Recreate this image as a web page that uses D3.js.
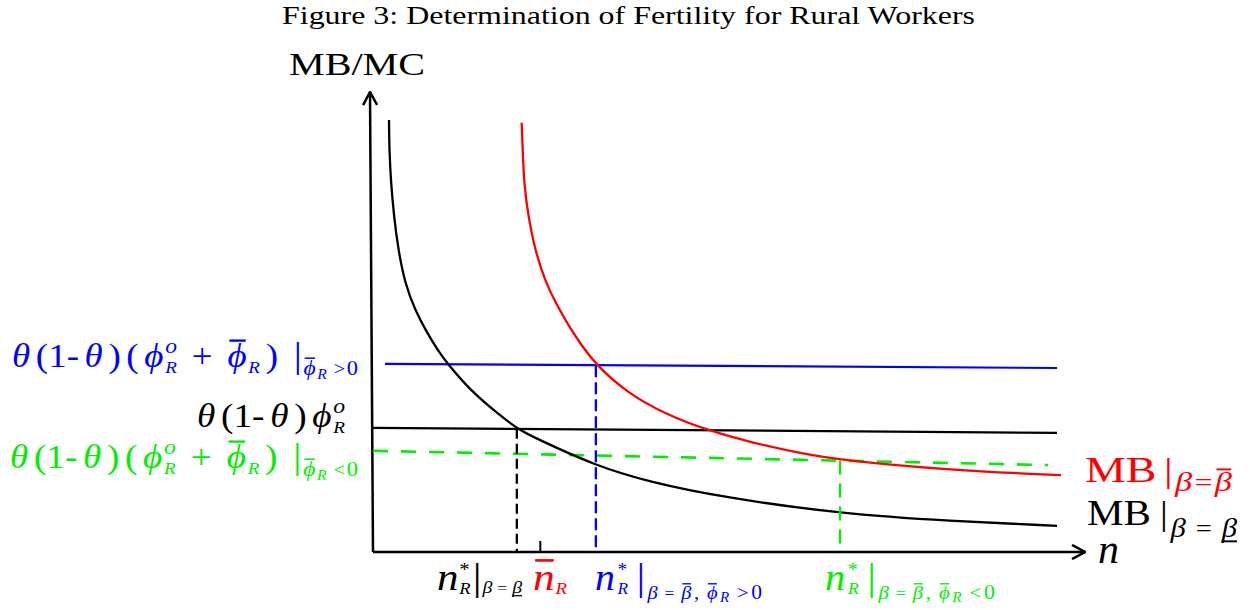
<!DOCTYPE html>
<html>
<head>
<meta charset="utf-8">
<script src="https://cdn.jsdelivr.net/npm/d3@7"></script>
<style>
  body { margin: 0; background: #fff; }
  svg { font-family: "Liberation Serif", "DejaVu Serif", serif; }
  text { white-space: pre; }
</style>
</head>
<body>
<svg id="svg1"></svg>
<script>
const width = 1256;
const height = 610;

// curves (n, MB)
const nBlack = [2.25, 2.29, 2.53, 2.95, 3.55, 4.49, 5.90, 7.54, 9.17, 10.39, 13.62, 17.42, 20.37, 22.75, 31.32, 38.90, 48.74, 65.59, 81.04, 96.07];
const mbBlack = [93.9, 87.4, 80.2, 72.9, 65.7, 58.4, 52.6, 47.8, 43.7, 41.1, 35.2, 30.2, 26.7, 24.8, 18.7, 15.2, 12.0, 8.3, 6.7, 5.7];
const nRed = [20.88, 21.03, 21.21, 21.81, 22.75, 24.16, 25.80, 27.67, 29.07, 31.32, 35.67, 41.29, 46.91, 53.37, 59.97, 65.59, 81.04, 96.63];
const mbRed = [93.3, 87.4, 80.2, 72.9, 65.7, 58.9, 53.7, 48.7, 45.4, 40.7, 34.6, 29.8, 26.5, 23.7, 21.5, 20.0, 17.8, 16.7];

// MC lines (start/end)
const mcBlueN = [1.69, 96.07], mcBlueV = [40.9, 40.0];
const mcBlackN = [0, 96.07], mcBlackV = [27.0, 25.9];
const mcGreenN = [0, 94.8], mcGreenV = [22.0, 18.9];

// equilibria
const nStar = [20.2, 31.3, 65.6];
const eqMB = [26.8, 40.6, 19.9];
const eqColor = ["#000", "#0000ff", "#00ee00"];
const eqDash = ["10,5", "12,5", "14,9"];
const nBar = 23.5;

const x = d3.scaleLinear([0, 100], [373, 1085]);
const y = d3.scaleLinear([0, 100], [552, 92]);

const svg = d3.select("#svg1")
    .attr("width", width)
    .attr("height", height)
    .attr("viewBox", [0, 0, width, height]);

svg.append("defs").append("marker")
    .attr("id", "arrow")
    .attr("markerUnits", "userSpaceOnUse")
    .attr("viewBox", "0 0 16 16")
    .attr("markerWidth", 16).attr("markerHeight", 16)
    .attr("refX", 15).attr("refY", 8)
    .attr("orient", "auto")
    .append("path")
    .attr("d", "M2,1L15,8L2,15")
    .attr("fill", "none").attr("stroke", "#000").attr("stroke-width", 2.5);

// title
svg.append("text")
    .attr("x", 282).attr("y", 24)
    .attr("textLength", 693).attr("lengthAdjust", "spacingAndGlyphs")
    .style("font-size", "25px")
    .text("Figure 3: Determination of Fertility for Rural Workers");

svg.append("text")
    .attr("x", 289).attr("y", 75)
    .attr("textLength", 136).attr("lengthAdjust", "spacingAndGlyphs")
    .style("font-size", "31px")
    .text("MB/MC");

// axes
svg.append("line")
    .attr("x1", x(0)).attr("y1", y(0))
    .attr("x2", x(0) - 3).attr("y2", y(100))
    .attr("stroke", "#000").attr("stroke-width", 2.5)
    .attr("marker-end", "url(#arrow)");
svg.append("line")
    .attr("x1", x(0)).attr("y1", y(0))
    .attr("x2", x(100)).attr("y2", y(0))
    .attr("stroke", "#000").attr("stroke-width", 2.5)
    .attr("marker-end", "url(#arrow)");

svg.append("line")
    .attr("x1", x(nBar)).attr("x2", x(nBar))
    .attr("y1", y(0)).attr("y2", y(0) - 11)
    .attr("stroke", "#000").attr("stroke-width", 2);

// MC lines
const mcLine = (ns, vs, color, dash, w) => svg.append("line")
    .attr("x1", x(ns[0])).attr("y1", y(vs[0]))
    .attr("x2", x(ns[1])).attr("y2", y(vs[1]))
    .attr("stroke", color).attr("stroke-width", w)
    .attr("stroke-dasharray", dash);
mcLine(mcBlueN, mcBlueV, "#0000ff", null, 2.2);
mcLine(mcBlackN, mcBlackV, "#000", null, 2.2);
mcLine(mcGreenN, mcGreenV, "#00ee00", "15,13", 2.6);

// MB curves
const line = d3.line()
    .x(d => x(d[0]))
    .y(d => y(d[1]))
    .curve(d3.curveBasis);
svg.append("path")
    .attr("d", line(d3.zip(nBlack, mbBlack)))
    .attr("fill", "none").attr("stroke", "#000").attr("stroke-width", 2.3);
svg.append("path")
    .attr("d", line(d3.zip(nRed, mbRed)))
    .attr("fill", "none").attr("stroke", "#ff0000").attr("stroke-width", 2.3);

// drop lines
svg.selectAll(".drop")
    .data(nStar)
    .join("line")
    .attr("class", "drop")
    .attr("x1", d => x(d)).attr("x2", d => x(d))
    .attr("y1", (d, i) => y(eqMB[i])).attr("y2", y(0))
    .attr("stroke", (d, i) => eqColor[i])
    .attr("stroke-width", 2.3)
    .attr("stroke-dasharray", (d, i) => eqDash[i]);

// math-ish labels built from pieces; a little spare width goes into gaps, the rest is a stretch
function mathLabel(x0, x1, base, color, parts, maxGap = 4) {
    const g = svg.append("g").attr("fill", color);
    const items = parts.map(p => {
        const s = p.size || 33;
        const t = g.append("text")
            .attr("y", p.dy || 0)
            .style("font-size", s + "px")
            .style("font-style", p.it ? "italic" : "normal")
            .text(p.t);
        return {p, s, t, w: t.node().getComputedTextLength()};
    });
    let natural = 0, weights = 0;
    items.forEach((d, i) => {
        if (!d.p.keep) natural += d.w;
        if (i > 0 && !items[i - 1].p.keep) weights += d.p.dy ? 0.3 : 1;
    });
    const gap = Math.min(maxGap, Math.max(0, (x1 - x0 - natural) / weights));
    let cx = 0;
    const deco = [];
    items.forEach((d, i) => {
        if (i > 0 && !items[i - 1].p.keep) cx += gap * (d.p.dy ? 0.3 : 1);
        d.t.attr("x", cx);
        const dy = d.p.dy || 0;
        if (d.p.over) deco.push([cx + d.w * 0.1, cx + d.w * 0.95, dy - d.s * 0.8, d.s]);
        if (d.p.under) deco.push([cx, cx + d.w, dy + d.s * 0.16, d.s]);
        if (!d.p.keep) cx += d.w;
    });
    g.selectAll("line")
        .data(deco)
        .join("line")
        .attr("x1", d => d[0]).attr("x2", d => d[1])
        .attr("y1", d => d[2]).attr("y2", d => d[2])
        .attr("stroke", color)
        .attr("stroke-width", d => Math.max(1.2, d[3] / 14));
    g.attr("transform", `translate(${x0},${base}) scale(${(x1 - x0) / cx},1)`);
}

const mcParts = (sign) => [
    {t: "θ", it: 1}, {t: "(1-"}, {t: "θ", it: 1}, {t: ")"}, {t: "("},
    {t: "ϕ", it: 1}, {t: "o", it: 1, size: 21, dy: -14, keep: 1}, {t: "R", it: 1, size: 17, dy: 6},
    {t: " + "}, {t: "ϕ", it: 1, over: 1}, {t: "R", it: 1, size: 17, dy: 6}, {t: ")"},
    {t: " |", size: 36}, {t: "ϕ", it: 1, size: 21, dy: 8, over: 1}, {t: "R", it: 1, size: 14, dy: 12},
    {t: " " + sign, size: 18, dy: 8}, {t: "0", size: 20, dy: 8}
];
mathLabel(12, 358, 367, "#0000ff", mcParts(">"), 5);
mathLabel(10, 358, 468, "#00ee00", mcParts("<"), 5);
mathLabel(197, 345, 427, "#000", [
    {t: "θ", it: 1}, {t: "(1-"}, {t: "θ", it: 1}, {t: ")"},
    {t: "ϕ", it: 1}, {t: "o", it: 1, size: 21, dy: -14, keep: 1}, {t: "R", it: 1, size: 17, dy: 6}
], 5);

// labels under the n axis
const nStarParts = () => [
    {t: "n", it: 1, size: 37}, {t: "*", size: 18, dy: -14, keep: 1}, {t: "R", it: 1, size: 16, dy: 4},
    {t: "|", size: 38}
];
mathLabel(437, 522, 590, "#000", nStarParts().concat([
    {t: "β", it: 1, size: 17, dy: 3}, {t: " = ", size: 15, dy: 3}, {t: "β", it: 1, size: 17, dy: 3, under: 1}
]), 2);
mathLabel(533, 567, 590, "#ff0000", [
    {t: "n", it: 1, size: 37, over: 1}, {t: "R", it: 1, size: 16, dy: 4}
], 2);
const subTail = (sign) => [
    {t: "β", it: 1, size: 19, dy: 9}, {t: " = ", size: 16, dy: 9},
    {t: "β", it: 1, size: 19, dy: 9, over: 1}, {t: ", ", size: 19, dy: 9},
    {t: "ϕ", it: 1, size: 19, dy: 9, over: 1}, {t: "R", it: 1, size: 14, dy: 12},
    {t: " " + sign, size: 19, dy: 9}, {t: "0", size: 20, dy: 9}
];
mathLabel(595, 762, 590, "#0000ff", nStarParts().concat(subTail(">")), 8);
mathLabel(825, 995, 590, "#00ee00", nStarParts().concat(subTail("<")), 8);

// curve labels on the right
mathLabel(1085, 1232, 482, "#ff0000", [
    {t: "MB", size: 36}, {t: "|", size: 34},
    {t: "β", it: 1, size: 27, dy: 9}, {t: "=", size: 25, dy: 9}, {t: "β", it: 1, size: 27, dy: 9, over: 1}
], 6);
mathLabel(1087, 1237, 525, "#000", [
    {t: "MB", size: 36}, {t: "|", size: 34},
    {t: "β", it: 1, size: 27, dy: 12}, {t: " = ", size: 25, dy: 12}, {t: "β", it: 1, size: 27, dy: 12, under: 1}
], 8);

svg.append("text")
    .attr("x", 1098).attr("y", 563)
    .style("font-size", "42px").style("font-style", "italic")
    .text("n");
</script>
</body>
</html>
